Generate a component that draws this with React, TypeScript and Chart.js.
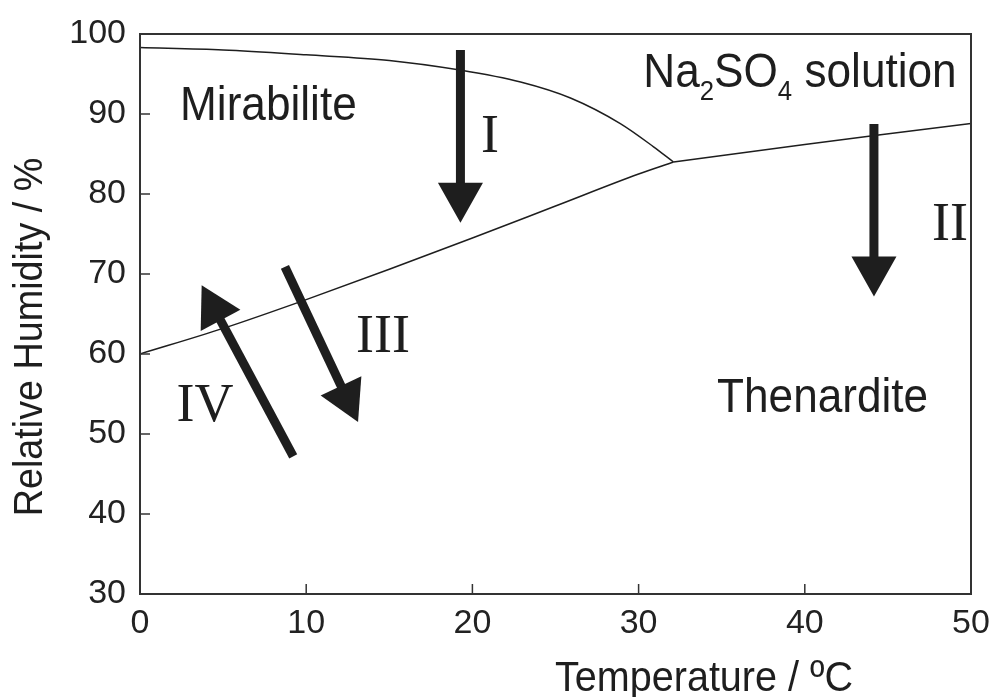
import { useEffect, useRef } from "react";
import { Chart, registerables } from "chart.js";

Chart.register(...registerables);

// ---- data ----
const xTickValues = [0, 10, 20, 30, 40, 50];
const yTickValues = [30, 40, 50, 60, 70, 80, 90, 100];

// Mirabilite / solution boundary
const mirabSolT = [0, 5, 10, 15, 19.25, 22.9, 25.9, 28.9, 30.9, 32.1];
const mirabSolRH = [98.3, 98.0, 97.4, 96.7, 95.5, 94.0, 92.0, 88.8, 85.9, 84.0];

// Mirabilite / thenardite boundary
const mirabThenT = [0, 5, 10, 15, 20, 25, 30, 32.1];
const mirabThenRH = [60.0, 63.2, 66.8, 70.6, 74.5, 78.5, 82.5, 84.0];

// Thenardite / solution boundary
const thenSolT = [32.1, 40, 44.2, 50];
const thenSolRH = [84.0, 86.2, 87.3, 88.8];

// Arrows
const arrowNames = ["I", "II", "III", "IV"];
const arrowFromT = [19.28, 44.16, 8.72, 9.22];
const arrowFromRH = [98.0, 88.75, 70.9, 47.2];
const arrowToT = [19.28, 44.16, 13.12, 3.71];
const arrowToRH = [76.4, 67.2, 51.5, 68.6];
const arrowLabelT = [21.06, 48.74, 14.62, 3.91];
const arrowLabelRH = [87.25, 76.25, 62.25, 53.6];

// Phase region labels
const phaseNames = ["Mirabilite", "Thenardite"];
const phaseLabelT = [2.41, 34.72];
const phaseLabelRH = [89.3, 52.75];
const solutionParts = ["Na", "2", "SO", "4", " solution"];
const solutionLabelT = 30.28;
const solutionLabelRH = 93.4;

const xTitle = "Temperature / ºC";
const yTitle = "Relative Humidity / %";

const SANS = "'Liberation Sans', Arial, sans-serif";
const SERIF = "'Liberation Serif', 'Times New Roman', serif";
const INK = "#1e1e1e";

function squeezedText(
  ctx: CanvasRenderingContext2D,
  text: string,
  x: number,
  y: number,
  sx: number
) {
  ctx.save();
  ctx.translate(x, y);
  ctx.scale(sx, 1);
  ctx.fillText(text, 0, 0);
  ctx.restore();
}

const decorPlugin = {
  id: "decor",
  afterDatasetsDraw(chart: any) {
    const { ctx, chartArea } = chart;
    const xs = chart.scales.x;
    const ys = chart.scales.y;
    ctx.save();

    // inward tick marks
    ctx.strokeStyle = "#333";
    ctx.lineWidth = 1.5;
    xTickValues.forEach((v) => {
      const px = xs.getPixelForValue(v);
      ctx.beginPath();
      ctx.moveTo(px, chartArea.bottom);
      ctx.lineTo(px, chartArea.bottom - 10);
      ctx.stroke();
    });
    yTickValues.forEach((v) => {
      const py = ys.getPixelForValue(v);
      ctx.beginPath();
      ctx.moveTo(chartArea.left, py);
      ctx.lineTo(chartArea.left + 10, py);
      ctx.stroke();
    });

    // frame
    ctx.lineWidth = 2;
    ctx.strokeStyle = "#333";
    ctx.strokeRect(
      chartArea.left,
      chartArea.top,
      chartArea.right - chartArea.left,
      chartArea.bottom - chartArea.top
    );

    // arrows
    ctx.fillStyle = INK;
    ctx.strokeStyle = INK;
    const headLen = 40;
    const headHalf = 22.5;
    const shaftW = 9;
    arrowNames.forEach((_, i) => {
      const x0 = xs.getPixelForValue(arrowFromT[i]);
      const y0 = ys.getPixelForValue(arrowFromRH[i]);
      const x1 = xs.getPixelForValue(arrowToT[i]);
      const y1 = ys.getPixelForValue(arrowToRH[i]);
      const len = Math.hypot(x1 - x0, y1 - y0);
      const ux = (x1 - x0) / len;
      const uy = (y1 - y0) / len;
      const bx = x1 - ux * headLen;
      const by = y1 - uy * headLen;
      ctx.lineWidth = shaftW;
      ctx.lineCap = "butt";
      ctx.beginPath();
      ctx.moveTo(x0, y0);
      ctx.lineTo(bx + ux * 2, by + uy * 2);
      ctx.stroke();
      ctx.beginPath();
      ctx.moveTo(x1, y1);
      ctx.lineTo(bx - uy * headHalf, by + ux * headHalf);
      ctx.lineTo(bx + uy * headHalf, by - ux * headHalf);
      ctx.closePath();
      ctx.fill();
    });

    // roman numerals
    ctx.font = `54px ${SERIF}`;
    ctx.textAlign = "center";
    ctx.textBaseline = "middle";
    arrowNames.forEach((name, i) => {
      ctx.fillText(
        name,
        xs.getPixelForValue(arrowLabelT[i]),
        ys.getPixelForValue(arrowLabelRH[i]) + 2
      );
    });

    // phase labels
    ctx.textAlign = "left";
    ctx.textBaseline = "alphabetic";
    const sx = 0.92;
    ctx.font = `48px ${SANS}`;
    phaseNames.forEach((name, i) => {
      squeezedText(
        ctx,
        name,
        xs.getPixelForValue(phaseLabelT[i]),
        ys.getPixelForValue(phaseLabelRH[i]),
        sx
      );
    });

    // Na2SO4 solution with subscripts
    let cx = xs.getPixelForValue(solutionLabelT);
    const by0 = ys.getPixelForValue(solutionLabelRH);
    solutionParts.forEach((part, i) => {
      const sub = i === 1 || i === 3;
      ctx.font = sub ? `28px ${SANS}` : `48px ${SANS}`;
      squeezedText(ctx, part, cx, by0 + (sub ? 13 : 0), sx);
      cx += ctx.measureText(part).width * sx;
    });

    // axis titles
    ctx.font = `43px ${SANS}`;
    ctx.textAlign = "center";
    ctx.textBaseline = "alphabetic";
    squeezedText(ctx, xTitle, chartArea.left + 564, chartArea.bottom + 97, sx);

    ctx.save();
    ctx.translate(chartArea.left - 98, chartArea.top + 303);
    ctx.rotate(-Math.PI / 2);
    ctx.font = `41px ${SANS}`;
    ctx.textAlign = "center";
    ctx.textBaseline = "alphabetic";
    squeezedText(ctx, yTitle, 0, 0, sx);
    ctx.restore();

    ctx.restore();
  },
};

export default function App() {
  const canvasRef = useRef<HTMLCanvasElement | null>(null);

  useEffect(() => {
    if (!canvasRef.current) return;
    const lineStyle = {
      showLine: true,
      pointRadius: 0,
      borderColor: INK,
      borderWidth: 1.5,
      fill: false,
    };
    const chart = new Chart(canvasRef.current, {
      type: "scatter",
      data: {
        datasets: [
          {
            ...lineStyle,
            label: "Mirabilite/solution",
            data: mirabSolT.map((t, i) => ({ x: t, y: mirabSolRH[i] })),
            cubicInterpolationMode: "monotone",
          },
          {
            ...lineStyle,
            label: "Mirabilite/thenardite",
            data: mirabThenT.map((t, i) => ({ x: t, y: mirabThenRH[i] })),
            cubicInterpolationMode: "monotone",
          },
          {
            ...lineStyle,
            label: "Thenardite/solution",
            data: thenSolT.map((t, i) => ({ x: t, y: thenSolRH[i] })),
          },
        ],
      },
      options: {
        animation: false,
        responsive: true,
        maintainAspectRatio: false,
        layout: { padding: { top: 34, right: 21, left: 0, bottom: 0 } },
        plugins: {
          legend: { display: false },
          tooltip: { enabled: false },
        },
        scales: {
          x: {
            type: "linear",
            min: 0,
            max: 50,
            afterFit: (scale: any) => {
              scale.height = 103;
              scale.paddingLeft = 0;
              scale.paddingRight = 0;
            },
            afterBuildTicks: (scale: any) => {
              scale.ticks = xTickValues.map((v) => ({ value: v }));
            },
            grid: { display: false, drawTicks: false },
            border: { display: false },
            ticks: {
              padding: 9,
              color: "#222",
              font: { family: SANS, size: 34 },
              maxRotation: 0,
              autoSkip: false,
            },
          },
          y: {
            type: "linear",
            min: 30,
            max: 100,
            afterFit: (scale: any) => {
              scale.width = 140;
              scale.paddingTop = 0;
              scale.paddingBottom = 0;
            },
            afterBuildTicks: (scale: any) => {
              scale.ticks = yTickValues.map((v) => ({ value: v }));
            },
            grid: { display: false, drawTicks: false },
            border: { display: false },
            ticks: {
              padding: 14,
              color: "#222",
              font: { family: SANS, size: 34 },
              autoSkip: false,
            },
          },
        },
      },
      plugins: [decorPlugin],
    } as any);
    return () => chart.destroy();
  }, []);

  return (
    <div
      style={{
        position: "fixed",
        left: 0,
        top: 0,
        width: 992,
        height: 697,
        background: "#fff",
      }}
    >
      <canvas ref={canvasRef} />
    </div>
  );
}
